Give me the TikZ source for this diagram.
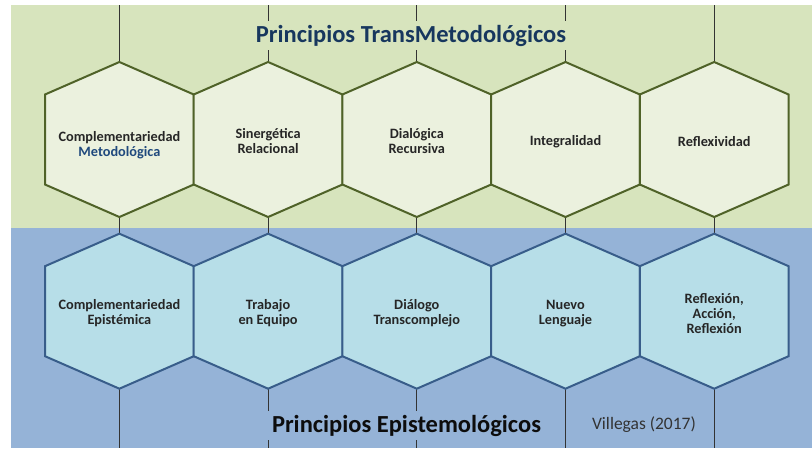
\documentclass[tikz,border=0pt]{standalone}
\usepackage{fontspec}
\setmainfont{Carlito}
\usepackage{tikz}
\usetikzlibrary{positioning, backgrounds}
\definecolor{panelgreen}{HTML}{D7E4BD}
\definecolor{cellgreen}{HTML}{EBF1DE}
\definecolor{edgegreen}{HTML}{4F6228}
\definecolor{panelblue}{HTML}{95B3D7}
\definecolor{cellblue}{HTML}{B7DEE8}
\definecolor{edgeblue}{HTML}{385D8A}
\definecolor{titlenavy}{HTML}{17375E}
\definecolor{textnavy}{HTML}{1F497D}
\definecolor{stemgray}{HTML}{333333}

% hexagon cell: [text shift], name, style, text
\newcommand{\hexcell}[4][-2pt]{%
  \draw[#3, shift={(#2)}] (0,-77.5) coordinate (#2-n) -- (74.4,-45) -- (74.4,45)
    -- (0,77.5) coordinate (#2-s) -- (-74.4,45) -- (-74.4,-45) -- cycle;
  \node[celltext] (#2-txt) at ([yshift=#1]#2) {#4};
}

\begin{document}
\begin{tikzpicture}[
    x=1pt, y=-1pt,
    topcell/.style={fill=cellgreen, draw=edgegreen, line width=2pt, line join=miter},
    botcell/.style={fill=cellblue, draw=edgeblue, line width=2pt, line join=miter},
    celltext/.style={align=center, font=\fontsize{14.3}{15}\selectfont\bfseries, text=black!85},
    stem/.style={draw=stemgray, line width=1.2pt},
    heading/.style={font=\fontsize{24.5}{28}\selectfont\bfseries, fill=#1, inner xsep=6pt, inner ysep=4pt}
]
    \useasboundingbox (0,0) rectangle (812,448);

    % Cell centres
    \coordinate (t1) at (119.4,139.5);
    \coordinate (t2) at (268.1,139.5);
    \coordinate (t3) at (416.8,139.5);
    \coordinate (t4) at (565.5,139.5);
    \coordinate (t5) at (714.2,139.5);
    \coordinate (b1) at (119.4,311.2);
    \coordinate (b2) at (268.1,311.2);
    \coordinate (b3) at (416.8,311.2);
    \coordinate (b4) at (565.5,311.2);
    \coordinate (b5) at (714.2,311.2);

    % TransMetodologicos row
    \hexcell[-6pt]{t1}{topcell}{Complementariedad\\\textcolor{textnavy}{Metodológica}}
    \hexcell{t2}{topcell}{Sinergética\\Relacional}
    \hexcell{t3}{topcell}{Dialógica\\Recursiva}
    \hexcell{t4}{topcell}{Integralidad}
    \hexcell{t5}{topcell}{Reflexividad}

    % Epistemologicos row
    \hexcell{b1}{botcell}{Complementariedad\\Epistémica}
    \hexcell{b2}{botcell}{Trabajo\\en Equipo}
    \hexcell{b3}{botcell}{Diálogo\\Transcomplejo}
    \hexcell{b4}{botcell}{Nuevo\\Lenguaje}
    \hexcell{b5}{botcell}{Reflexión,\\Acción,\\Reflexión}

    % Panels and stems
    \begin{scope}[on background layer]
        \fill[panelgreen] (11,5) rectangle (812,228);
        \fill[panelblue] (11,228) rectangle (812,448);
        \foreach \i/\x in {1/119.4, 2/268.1, 3/416.8, 4/565.5, 5/714.2} {
            \coordinate (up\i) at (\x,5);
            \coordinate (down\i) at (\x,448);
            \draw[stem] (up\i) -- (t\i-n);
            \draw[stem] (t\i-s) -- (b\i-n);
            \draw[stem] (b\i-s) -- (down\i);
        }
    \end{scope}

    % Headings
    \node[heading=panelgreen, text=titlenavy, anchor=base] (transtitle) at (411,42) {Principios TransMetodológicos};
    \node[heading=panelblue, text=black!95, anchor=base] (epistitle) at (406.5,432) {Principios Epistemológicos};
    \node[font=\fontsize{17.5}{20}\selectfont, text=black!80, anchor=base] (source) at (644,429) {Villegas (2017)};

\end{tikzpicture}
\end{document}
